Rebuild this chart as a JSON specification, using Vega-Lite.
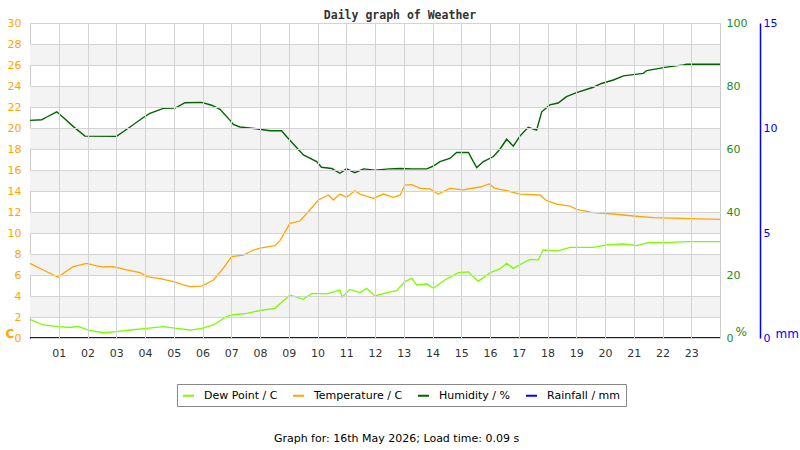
{
  "$schema": "https://vega.github.io/schema/vega-lite/v6.json",
  "width": 690,
  "height": 315,
  "autosize": {"type": "none"},
  "padding": {"left": 30, "top": 23, "right": 80, "bottom": 112},
  "background": "white",
  "title": {
    "text": "Daily graph of Weather",
    "font": "DejaVu Sans Mono",
    "fontSize": 11.5,
    "fontWeight": "bold",
    "color": "#333333",
    "anchor": "middle",
    "dx": 25,
    "dy": 11,
    "offset": 7
  },
  "config": {
    "view": {"stroke": "#cccccc"},
    "font": "DejaVu Sans"
  },
  "datasets": {
    "bands": [
      {"lo": 2, "hi": 4}, {"lo": 6, "hi": 8}, {"lo": 10, "hi": 12}, {"lo": 14, "hi": 16},
      {"lo": 18, "hi": 20}, {"lo": 22, "hi": 24}, {"lo": 26, "hi": 28}
    ],
    "thermo": [
      {"h": 0, "series": "Temperature / C", "v": 7.11},
      {"h": 0.46, "series": "Temperature / C", "v": 6.48},
      {"h": 0.99, "series": "Temperature / C", "v": 5.78},
      {"h": 1.16, "series": "Temperature / C", "v": 6.16},
      {"h": 1.51, "series": "Temperature / C", "v": 6.79},
      {"h": 1.97, "series": "Temperature / C", "v": 7.11},
      {"h": 2.32, "series": "Temperature / C", "v": 6.86},
      {"h": 2.55, "series": "Temperature / C", "v": 6.76},
      {"h": 2.9, "series": "Temperature / C", "v": 6.79},
      {"h": 3.36, "series": "Temperature / C", "v": 6.48},
      {"h": 3.83, "series": "Temperature / C", "v": 6.22},
      {"h": 4.06, "series": "Temperature / C", "v": 5.84},
      {"h": 4.52, "series": "Temperature / C", "v": 5.65},
      {"h": 4.99, "series": "Temperature / C", "v": 5.37},
      {"h": 5.33, "series": "Temperature / C", "v": 5.05},
      {"h": 5.57, "series": "Temperature / C", "v": 4.89},
      {"h": 5.97, "series": "Temperature / C", "v": 4.95},
      {"h": 6.38, "series": "Temperature / C", "v": 5.52},
      {"h": 6.72, "series": "Temperature / C", "v": 6.63},
      {"h": 7.01, "series": "Temperature / C", "v": 7.75},
      {"h": 7.42, "series": "Temperature / C", "v": 7.9},
      {"h": 7.77, "series": "Temperature / C", "v": 8.38},
      {"h": 8.0, "series": "Temperature / C", "v": 8.55},
      {"h": 8.52, "series": "Temperature / C", "v": 8.79},
      {"h": 8.7, "series": "Temperature / C", "v": 9.3},
      {"h": 8.87, "series": "Temperature / C", "v": 10.1},
      {"h": 9.04, "series": "Temperature / C", "v": 10.92},
      {"h": 9.39, "series": "Temperature / C", "v": 11.14},
      {"h": 9.7, "series": "Temperature / C", "v": 12.1},
      {"h": 10.03, "series": "Temperature / C", "v": 13.14},
      {"h": 10.38, "series": "Temperature / C", "v": 13.62},
      {"h": 10.55, "series": "Temperature / C", "v": 13.14},
      {"h": 10.78, "series": "Temperature / C", "v": 13.71},
      {"h": 11.01, "series": "Temperature / C", "v": 13.4},
      {"h": 11.3, "series": "Temperature / C", "v": 14.03},
      {"h": 11.48, "series": "Temperature / C", "v": 13.71},
      {"h": 11.94, "series": "Temperature / C", "v": 13.3},
      {"h": 12.29, "series": "Temperature / C", "v": 13.71},
      {"h": 12.64, "series": "Temperature / C", "v": 13.4},
      {"h": 12.87, "series": "Temperature / C", "v": 13.6},
      {"h": 13.04, "series": "Temperature / C", "v": 14.57},
      {"h": 13.28, "series": "Temperature / C", "v": 14.6},
      {"h": 13.57, "series": "Temperature / C", "v": 14.25},
      {"h": 13.91, "series": "Temperature / C", "v": 14.2},
      {"h": 14.2, "series": "Temperature / C", "v": 13.71},
      {"h": 14.61, "series": "Temperature / C", "v": 14.25},
      {"h": 15.07, "series": "Temperature / C", "v": 14.1},
      {"h": 15.65, "series": "Temperature / C", "v": 14.38},
      {"h": 15.97, "series": "Temperature / C", "v": 14.67},
      {"h": 16.17, "series": "Temperature / C", "v": 14.25},
      {"h": 16.58, "series": "Temperature / C", "v": 14.03},
      {"h": 17.04, "series": "Temperature / C", "v": 13.71},
      {"h": 17.74, "series": "Temperature / C", "v": 13.62},
      {"h": 17.97, "series": "Temperature / C", "v": 13.08},
      {"h": 18.32, "series": "Temperature / C", "v": 12.76},
      {"h": 18.78, "series": "Temperature / C", "v": 12.57},
      {"h": 19.01, "series": "Temperature / C", "v": 12.25},
      {"h": 19.59, "series": "Temperature / C", "v": 11.94},
      {"h": 20.29, "series": "Temperature / C", "v": 11.81},
      {"h": 20.98, "series": "Temperature / C", "v": 11.62},
      {"h": 21.68, "series": "Temperature / C", "v": 11.46},
      {"h": 22.61, "series": "Temperature / C", "v": 11.4},
      {"h": 24, "series": "Temperature / C", "v": 11.3},
      {"h": 0, "series": "Dew Point / C", "v": 1.78},
      {"h": 0.46, "series": "Dew Point / C", "v": 1.24},
      {"h": 0.99, "series": "Dew Point / C", "v": 1.08},
      {"h": 1.39, "series": "Dew Point / C", "v": 1.0},
      {"h": 1.68, "series": "Dew Point / C", "v": 1.1},
      {"h": 2.03, "series": "Dew Point / C", "v": 0.76},
      {"h": 2.55, "series": "Dew Point / C", "v": 0.5},
      {"h": 3.01, "series": "Dew Point / C", "v": 0.6},
      {"h": 3.48, "series": "Dew Point / C", "v": 0.76},
      {"h": 4.06, "series": "Dew Point / C", "v": 0.92},
      {"h": 4.64, "series": "Dew Point / C", "v": 1.08},
      {"h": 5.1, "series": "Dew Point / C", "v": 0.92},
      {"h": 5.57, "series": "Dew Point / C", "v": 0.76},
      {"h": 5.97, "series": "Dew Point / C", "v": 0.92},
      {"h": 6.38, "series": "Dew Point / C", "v": 1.24},
      {"h": 6.84, "series": "Dew Point / C", "v": 2.03},
      {"h": 7.01, "series": "Dew Point / C", "v": 2.19},
      {"h": 7.54, "series": "Dew Point / C", "v": 2.35},
      {"h": 8.0, "series": "Dew Point / C", "v": 2.62},
      {"h": 8.52, "series": "Dew Point / C", "v": 2.83},
      {"h": 9.04, "series": "Dew Point / C", "v": 4.1},
      {"h": 9.51, "series": "Dew Point / C", "v": 3.68},
      {"h": 9.8, "series": "Dew Point / C", "v": 4.25},
      {"h": 10.32, "series": "Dew Point / C", "v": 4.2},
      {"h": 10.78, "series": "Dew Point / C", "v": 4.57},
      {"h": 10.86, "series": "Dew Point / C", "v": 3.9},
      {"h": 11.13, "series": "Dew Point / C", "v": 4.63},
      {"h": 11.48, "series": "Dew Point / C", "v": 4.32},
      {"h": 11.71, "series": "Dew Point / C", "v": 4.73},
      {"h": 12.0, "series": "Dew Point / C", "v": 4.0},
      {"h": 12.41, "series": "Dew Point / C", "v": 4.32},
      {"h": 12.75, "series": "Dew Point / C", "v": 4.5},
      {"h": 13.04, "series": "Dew Point / C", "v": 5.37},
      {"h": 13.28, "series": "Dew Point / C", "v": 5.68},
      {"h": 13.45, "series": "Dew Point / C", "v": 5.05},
      {"h": 13.8, "series": "Dew Point / C", "v": 5.14},
      {"h": 14.03, "series": "Dew Point / C", "v": 4.73},
      {"h": 14.43, "series": "Dew Point / C", "v": 5.52},
      {"h": 14.9, "series": "Dew Point / C", "v": 6.22},
      {"h": 15.25, "series": "Dew Point / C", "v": 6.3},
      {"h": 15.59, "series": "Dew Point / C", "v": 5.4},
      {"h": 16.0, "series": "Dew Point / C", "v": 6.2},
      {"h": 16.35, "series": "Dew Point / C", "v": 6.6},
      {"h": 16.58, "series": "Dew Point / C", "v": 7.11},
      {"h": 16.81, "series": "Dew Point / C", "v": 6.63},
      {"h": 17.16, "series": "Dew Point / C", "v": 7.17},
      {"h": 17.39, "series": "Dew Point / C", "v": 7.49},
      {"h": 17.68, "series": "Dew Point / C", "v": 7.45},
      {"h": 17.85, "series": "Dew Point / C", "v": 8.38},
      {"h": 18.37, "series": "Dew Point / C", "v": 8.3},
      {"h": 18.78, "series": "Dew Point / C", "v": 8.63},
      {"h": 19.59, "series": "Dew Point / C", "v": 8.63},
      {"h": 20.06, "series": "Dew Point / C", "v": 8.86},
      {"h": 20.64, "series": "Dew Point / C", "v": 8.95},
      {"h": 21.1, "series": "Dew Point / C", "v": 8.8},
      {"h": 21.5, "series": "Dew Point / C", "v": 9.08},
      {"h": 22.14, "series": "Dew Point / C", "v": 9.08},
      {"h": 22.84, "series": "Dew Point / C", "v": 9.17},
      {"h": 24, "series": "Dew Point / C", "v": 9.17}
    ],
    "humidity": [
      {"h": 0, "series": "Humidity / %", "v": 69.1},
      {"h": 0.41, "series": "Humidity / %", "v": 69.3},
      {"h": 0.55, "series": "Humidity / %", "v": 70.0},
      {"h": 0.93, "series": "Humidity / %", "v": 71.8},
      {"h": 1.16, "series": "Humidity / %", "v": 70.0},
      {"h": 1.51, "series": "Humidity / %", "v": 67.1},
      {"h": 1.91, "series": "Humidity / %", "v": 64.1},
      {"h": 3.01, "series": "Humidity / %", "v": 64.0},
      {"h": 3.48, "series": "Humidity / %", "v": 67.0},
      {"h": 3.94, "series": "Humidity / %", "v": 70.0},
      {"h": 4.17, "series": "Humidity / %", "v": 71.3},
      {"h": 4.64, "series": "Humidity / %", "v": 72.9},
      {"h": 5.05, "series": "Humidity / %", "v": 73.0},
      {"h": 5.39, "series": "Humidity / %", "v": 74.7},
      {"h": 5.97, "series": "Humidity / %", "v": 74.8},
      {"h": 6.32, "series": "Humidity / %", "v": 73.9},
      {"h": 6.61, "series": "Humidity / %", "v": 72.6},
      {"h": 6.96, "series": "Humidity / %", "v": 69.1},
      {"h": 7.07, "series": "Humidity / %", "v": 67.8},
      {"h": 7.3, "series": "Humidity / %", "v": 67.0},
      {"h": 7.8, "series": "Humidity / %", "v": 66.5},
      {"h": 8.35, "series": "Humidity / %", "v": 65.8},
      {"h": 8.75, "series": "Humidity / %", "v": 65.8},
      {"h": 8.93, "series": "Humidity / %", "v": 63.9},
      {"h": 9.16, "series": "Humidity / %", "v": 61.6},
      {"h": 9.51, "series": "Humidity / %", "v": 58.1},
      {"h": 9.97, "series": "Humidity / %", "v": 56.0},
      {"h": 10.14, "series": "Humidity / %", "v": 54.2},
      {"h": 10.5, "series": "Humidity / %", "v": 53.8},
      {"h": 10.78, "series": "Humidity / %", "v": 52.3},
      {"h": 11.01, "series": "Humidity / %", "v": 53.7},
      {"h": 11.3, "series": "Humidity / %", "v": 52.5},
      {"h": 11.6, "series": "Humidity / %", "v": 53.7},
      {"h": 12.0, "series": "Humidity / %", "v": 53.3},
      {"h": 12.5, "series": "Humidity / %", "v": 53.7},
      {"h": 12.87, "series": "Humidity / %", "v": 53.8},
      {"h": 13.3, "series": "Humidity / %", "v": 53.7},
      {"h": 13.8, "series": "Humidity / %", "v": 53.7},
      {"h": 14.03, "series": "Humidity / %", "v": 54.6},
      {"h": 14.26, "series": "Humidity / %", "v": 56.0},
      {"h": 14.6, "series": "Humidity / %", "v": 57.0},
      {"h": 14.84, "series": "Humidity / %", "v": 58.9},
      {"h": 15.25, "series": "Humidity / %", "v": 58.9},
      {"h": 15.42, "series": "Humidity / %", "v": 56.0},
      {"h": 15.54, "series": "Humidity / %", "v": 54.1},
      {"h": 15.77, "series": "Humidity / %", "v": 56.0},
      {"h": 16.12, "series": "Humidity / %", "v": 57.6},
      {"h": 16.35, "series": "Humidity / %", "v": 60.0},
      {"h": 16.58, "series": "Humidity / %", "v": 63.1},
      {"h": 16.81, "series": "Humidity / %", "v": 60.9},
      {"h": 17.04, "series": "Humidity / %", "v": 64.1},
      {"h": 17.33, "series": "Humidity / %", "v": 66.9},
      {"h": 17.62, "series": "Humidity / %", "v": 66.0},
      {"h": 17.8, "series": "Humidity / %", "v": 71.8},
      {"h": 18.08, "series": "Humidity / %", "v": 74.0},
      {"h": 18.37, "series": "Humidity / %", "v": 74.6},
      {"h": 18.66, "series": "Humidity / %", "v": 76.6},
      {"h": 19.01, "series": "Humidity / %", "v": 77.9},
      {"h": 19.59, "series": "Humidity / %", "v": 79.6},
      {"h": 19.88, "series": "Humidity / %", "v": 80.8},
      {"h": 20.29, "series": "Humidity / %", "v": 81.9},
      {"h": 20.64, "series": "Humidity / %", "v": 83.2},
      {"h": 21.33, "series": "Humidity / %", "v": 84.0},
      {"h": 21.45, "series": "Humidity / %", "v": 84.9},
      {"h": 22.08, "series": "Humidity / %", "v": 85.9},
      {"h": 22.72, "series": "Humidity / %", "v": 86.7},
      {"h": 22.84, "series": "Humidity / %", "v": 86.9},
      {"h": 24, "series": "Humidity / %", "v": 86.9}
    ],
    "rain": [
      {"h": 0, "series": "Rainfall / mm", "v": 0},
      {"h": 4, "series": "Rainfall / mm", "v": 0},
      {"h": 8, "series": "Rainfall / mm", "v": 0},
      {"h": 12, "series": "Rainfall / mm", "v": 0},
      {"h": 16, "series": "Rainfall / mm", "v": 0},
      {"h": 20, "series": "Rainfall / mm", "v": 0},
      {"h": 24, "series": "Rainfall / mm", "v": 0}
    ]
  },
  "layer": [
    {
      "layer": [
        {
          "data": {"name": "bands"},
          "mark": {"type": "rect", "color": "#f3f3f3"},
          "encoding": {
            "y": {"field": "lo", "type": "quantitative"},
            "y2": {"field": "hi"}
          }
        },
        {
          "data": {"name": "thermo"},
          "mark": {"type": "line", "strokeWidth": 1.3},
          "encoding": {
            "x": {
              "field": "h",
              "type": "quantitative",
              "scale": {"domain": [0, 24], "nice": false},
              "axis": {
                "values": [1, 2, 3, 4, 5, 6, 7, 8, 9, 10, 11, 12, 13, 14, 15, 16, 17, 18, 19, 20, 21, 22, 23],
                "tickCount": 40,
                "labelExpr": "datum.value < 10 ? '0' + datum.value : '' + datum.value",
                "labelOverlap": false,
                "labelFlush": false,
                "grid": true,
                "gridColor": "#d3d3d3",
                "ticks": false,
                "domain": false,
                "labelColor": "#333333",
                "labelFontSize": 11,
                "labelPadding": 9,
                "title": "Graph for: 16th May 2026; Load time: 0.09 s",
                "titleFontWeight": "normal",
                "titleFontSize": 11,
                "titleColor": "#000000",
                "titleX": 366,
                "titleY": 100,
                "titleAlign": "center",
                "titleBaseline": "middle",
                "zindex": 1
              }
            },
            "y": {
              "field": "v",
              "type": "quantitative",
              "scale": {"domain": [0, 30], "nice": false},
              "axis": {
                "values": [0, 2, 4, 6, 8, 10, 12, 14, 16, 18, 20, 22, 24, 26, 28, 30],
                "tickCount": 40,
                "format": "d",
                "labelOverlap": false,
                "labelFlush": false,
                "grid": true,
                "gridColor": "#d3d3d3",
                "domain": false,
                "ticks": false,
                "labelColor": "#FFA500",
                "labelFontSize": 11,
                "labelPadding": 9,
                "title": "C",
                "titleAngle": 0,
                "titleX": -25,
                "titleY": 310,
                "titleAlign": "left",
                "titleBaseline": "middle",
                "titleColor": "#FFA500",
                "titleFontSize": 12,
                "titleFontWeight": "bold",
                "zindex": 1
              }
            },
            "color": {
              "field": "series",
              "type": "nominal",
              "scale": {
                "domain": ["Dew Point / C", "Temperature / C", "Humidity / %", "Rainfall / mm"],
                "range": ["#7CFC00", "#FFA500", "#006400", "#0000FF"]
              },
              "legend": {
                "orient": "none",
                "legendX": 147,
                "legendY": 361,
                "direction": "horizontal",
                "columns": 4,
                "title": null,
                "strokeColor": "#888888",
                "padding": 5,
                "columnPadding": 11,
                "labelFontSize": 11,
                "labelColor": "#000000",
                "symbolType": "stroke",
                "symbolSize": 120,
                "symbolStrokeWidth": 2,
                "labelOffset": 9
              }
            }
          }
        }
      ]
    },
    {
      "data": {"name": "humidity"},
      "mark": {"type": "line", "strokeWidth": 1.4},
      "encoding": {
        "x": {"field": "h", "type": "quantitative"},
        "y": {
          "field": "v",
          "type": "quantitative",
          "scale": {"domain": [0, 100], "nice": false},
          "axis": {
            "orient": "right",
            "values": [0, 20, 40, 60, 80, 100],
            "format": "d",
            "labelOverlap": false,
            "labelFlush": false,
            "grid": false,
            "domain": false,
            "ticks": false,
            "labelColor": "#228B22",
            "labelFontSize": 11,
            "labelPadding": 6,
            "title": "%",
            "titleAngle": 0,
            "titleX": 15,
            "titleY": 308,
            "titleAlign": "left",
            "titleBaseline": "middle",
            "titleColor": "#228B22",
            "titleFontSize": 12,
            "titleFontWeight": "normal"
          }
        },
        "color": {"field": "series", "type": "nominal"}
      }
    },
    {
      "data": {"name": "rain"},
      "mark": {"type": "line", "strokeWidth": 2},
      "encoding": {
        "x": {"field": "h", "type": "quantitative"},
        "y": {
          "field": "v",
          "type": "quantitative",
          "scale": {"domain": [0, 15], "nice": false},
          "axis": {
            "orient": "right",
            "offset": 40,
            "values": [0, 5, 10, 15],
            "format": "d",
            "labelOverlap": false,
            "labelFlush": false,
            "grid": false,
            "domain": true,
            "domainColor": "#0000FF",
            "domainWidth": 1.5,
            "ticks": false,
            "labelColor": "#0000FF",
            "labelFontSize": 11,
            "labelPadding": 3,
            "title": "mm",
            "titleAngle": 0,
            "titleX": 15,
            "titleY": 310,
            "titleAlign": "left",
            "titleBaseline": "middle",
            "titleColor": "#0000FF",
            "titleFontSize": 12,
            "titleFontWeight": "normal"
          }
        },
        "color": {"field": "series", "type": "nominal"}
      }
    }
  ],
  "resolve": {"scale": {"y": "independent"}}
}
